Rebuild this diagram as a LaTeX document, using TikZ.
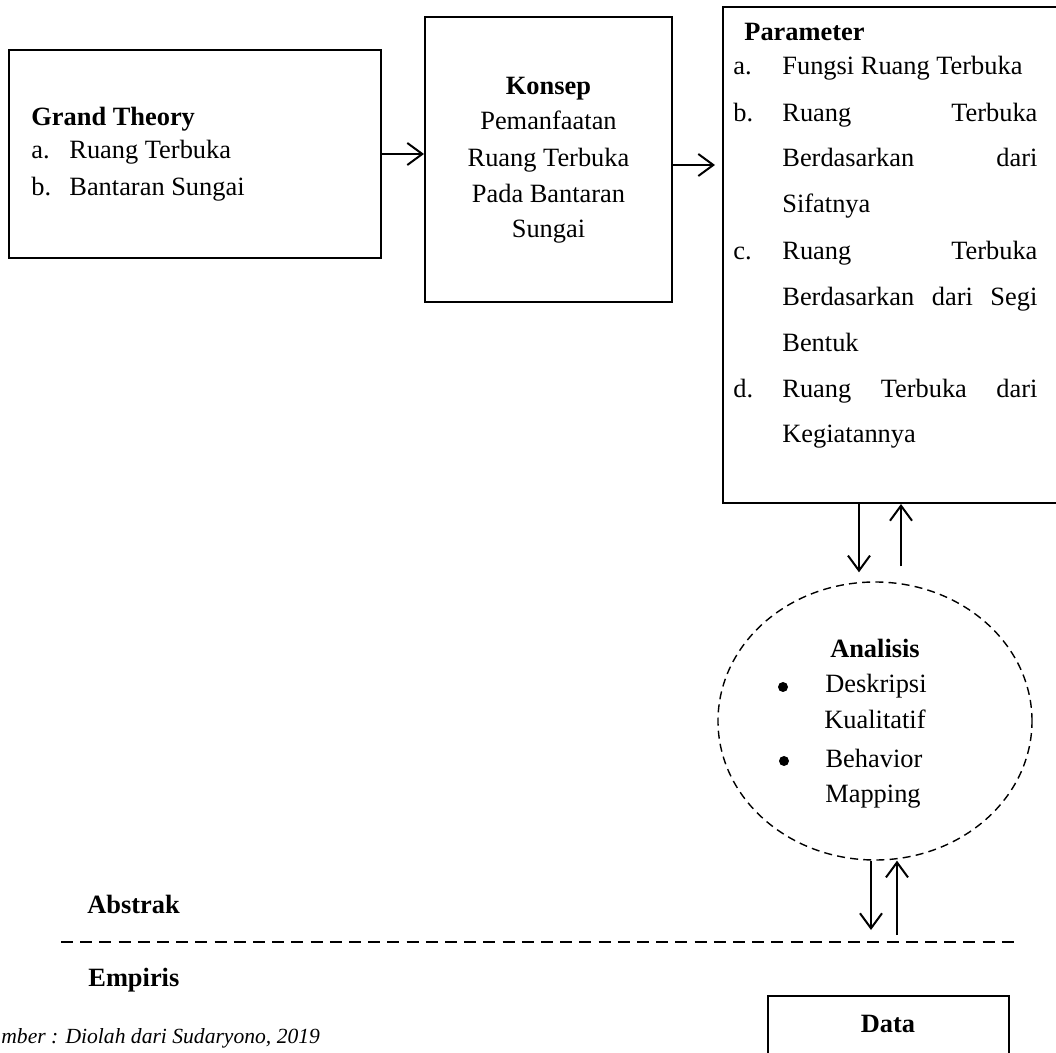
\documentclass[tikz,border=0pt]{standalone}
\usepackage{fontspec}
\setmainfont{Liberation Serif}
\usetikzlibrary{arrows.meta,shapes.geometric}
\begin{document}
\begin{tikzpicture}[x=0.5pt,y=-0.5pt,
  box/.style={draw,line width=1pt,rectangle,inner sep=0pt},
  arr/.style={line width=1pt,-{Straight Barb[length=7.5pt,width=11pt]}},
  txt/.style={inner sep=0pt,anchor=base west,font=\fontsize{13.2}{15}\selectfont},
  ctxt/.style={inner sep=0pt,anchor=base,font=\fontsize{13.2}{15}\selectfont},
  dot/.style={circle,fill,inner sep=0pt,minimum size=5pt}]
\useasboundingbox (0,0) rectangle (1056,1053);
\clip (0,0) rectangle (1056,1053);
% boxes
\node[box,minimum width=186pt,minimum height=104pt] (gt) at (195,154) {};
\node[box,minimum width=123.5pt,minimum height=142.5pt] (konsep) at (548.5,159.5) {};
\node[box,minimum width=173.5pt,minimum height=248pt] (param) at (896.5,255) {};
\node[draw,dashed,dash pattern=on 4pt off 2.6pt,line width=0.7pt,ellipse,inner sep=0pt,minimum width=157pt,minimum height=139pt] (ana) at (875,721) {};
\node[box,minimum width=120.5pt,minimum height=52pt] (data) at (888.5,1048) {};
% Grand Theory
\node[txt,font=\fontsize{13.2}{15}\selectfont\bfseries] (gtt) at (31,126) {Grand Theory};
\node[txt] (gta) at (31,159) {a.};
\node[txt] (gta2) at (69,159) {Ruang Terbuka};
\node[txt] (gtb) at (31,196) {b.};
\node[txt] (gtb2) at (69,196) {Bantaran Sungai};
% Konsep
\node[ctxt,font=\fontsize{13.2}{15}\selectfont\bfseries] (k0) at (548.5,95) {Konsep};
\node[ctxt] (k1) at (548.5,130) {Pemanfaatan};
\node[ctxt] (k2) at (548.5,167) {Ruang Terbuka};
\node[ctxt] (k3) at (548.5,203) {Pada Bantaran};
\node[ctxt] (k4) at (548.5,238) {Sungai};
% Parameter
\node[txt,font=\fontsize{13.2}{15}\selectfont\bfseries] (p0) at (744,41) {Parameter};
\node[txt] (pa) at (733,75) {a.};
\node[txt] (pa1) at (782,75) {Fungsi Ruang Terbuka};
\node[txt] (pb) at (733,122) {b.};
\node[txt] (pb1) at (782,122) {\makebox[127.5pt][s]{Ruang Terbuka}};
\node[txt] (pb2) at (782,167) {\makebox[127.5pt][s]{Berdasarkan dari}};
\node[txt] (pb3) at (782,213) {Sifatnya};
\node[txt] (pc) at (733,260) {c.};
\node[txt] (pc1) at (782,260) {\makebox[127.5pt][s]{Ruang Terbuka}};
\node[txt] (pc2) at (782,306) {\makebox[127.5pt][s]{Berdasarkan dari Segi}};
\node[txt] (pc3) at (782,352) {Bentuk};
\node[txt] (pd) at (733,398) {d.};
\node[txt] (pd1) at (782,398) {\makebox[127.5pt][s]{Ruang Terbuka dari}};
\node[txt] (pd2) at (782,443) {Kegiatannya};
% Analisis
\node[ctxt,font=\fontsize{13.2}{15}\selectfont\bfseries] (a0) at (875,658) {Analisis};
\node[dot] (b1) at (783,687) {};
\node[ctxt] (a1) at (876,693) {Deskripsi};
\node[ctxt] (a2) at (875,729) {Kualitatif};
\node[dot] (b2) at (784,761) {};
\node[ctxt] (a3) at (874,768) {Behavior};
\node[ctxt] (a4) at (873,802) {Mapping};
% Abstrak / Empiris
\node[txt,font=\fontsize{13.2}{15}\selectfont\bfseries] (abs) at (87,913) {Abstrak};
\node[txt,font=\fontsize{13.2}{15}\selectfont\bfseries] (emp) at (88,986) {Empiris};
\node[ctxt,font=\fontsize{13.2}{15}\selectfont\bfseries] (dt) at (888,1032) {Data};
\node[txt,font=\fontsize{10.8}{13}\selectfont\itshape] (src) at (1,1043) {mber : Diolah dari Sudaryono, 2019};
% dashed divider
\coordinate (dl) at (61,942);
\coordinate (dr) at (1015,942);
\draw[line width=1pt,dash pattern=on 6pt off 3.6pt] (dl) -- (dr);
% connectors
\coordinate (h2) at (0,165);
\coordinate (v1) at (859,0);
\coordinate (v2) at (901,0);
\coordinate (v3) at (871,0);
\coordinate (v4) at (897,0);
\draw[arr] (gt.east) -- (gt.east -| konsep.west);
\draw[arr,shorten >=3.5pt] (konsep.east |- h2) -- (param.west |- h2);
\draw[arr,shorten >=4.5pt] (param.south -| v1) -- (ana.north -| v1);
\draw[arr,shorten <=7.5pt] (ana.north -| v2) -- (param.south -| v2);
\draw[arr,shorten >=6pt] (ana.south -| v3) -- (dl -| v3);
\draw[arr,shorten <=3.5pt] (dl -| v4) -- (ana.south -| v4);
\end{tikzpicture}
\end{document}
